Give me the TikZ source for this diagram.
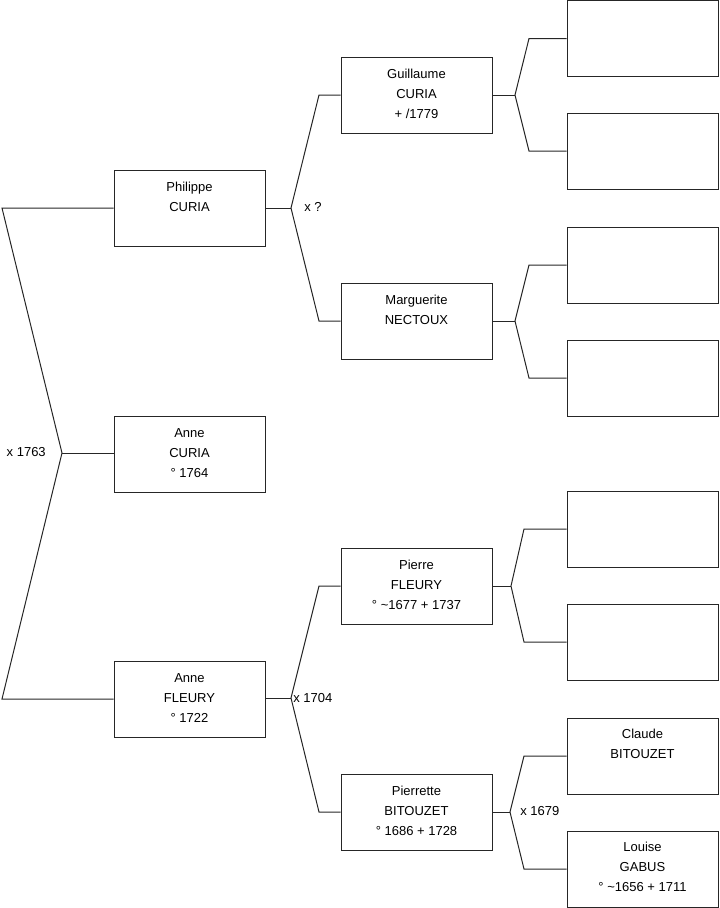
\documentclass[tikz,border=0pt]{standalone}
\usepackage{fontspec}
\setmainfont{Liberation Sans}
\usetikzlibrary{calc}
\newcommand{\firstln}{\rule{0pt}{10pt}}
\begin{document}
\begin{tikzpicture}[x=0.75pt,y=-0.75pt,
  pbox/.style={draw=black!85, line width=0.75pt, minimum width=113.25pt, minimum height=57pt, inner sep=0pt},
  txt/.style={anchor=north, align=center, inner sep=0pt, font=\fontsize{9.75}{15}\selectfont},
  lbl/.style={inner sep=0pt, font=\fontsize{9.75}{12}\selectfont},
  link/.style={draw=black!85, line width=0.75pt}]
\useasboundingbox (0,0) rectangle (719,908);
% level 1
\node[pbox] (P1) at (189.5,208) {};
\node[pbox] (A)  at (189.5,454) {};
\node[pbox] (F)  at (189.5,699) {};
% level 2
\node[pbox] (G)  at (416.5,95) {};
\node[pbox] (M)  at (416.5,321) {};
\node[pbox] (PF) at (416.5,586) {};
\node[pbox] (PB) at (416.5,812) {};
% level 3
\node[pbox] (U1) at (642.5,38.5) {};
\node[pbox] (U2) at (642.5,151) {};
\node[pbox] (U3) at (642.5,265) {};
\node[pbox] (U4) at (642.5,378) {};
\node[pbox] (U5) at (642.5,529) {};
\node[pbox] (U6) at (642.5,642) {};
\node[pbox] (C)  at (642.5,756) {};
\node[pbox] (L)  at (642.5,869) {};
% texts
\node[txt] (tP1) at ([yshift=-6.25pt]P1.north) {\firstln Philippe\\CURIA};
\node[txt] (tA)  at ([yshift=-6.25pt]A.north) {\firstln Anne\\CURIA\\° 1764};
\node[txt] (tF)  at ([yshift=-6.25pt]F.north) {\firstln Anne\\FLEURY\\° 1722};
\node[txt] (tG)  at ([yshift=-6.25pt]G.north) {\firstln Guillaume\\CURIA\\+ /1779};
\node[txt] (tM)  at ([yshift=-6.25pt]M.north) {\firstln Marguerite\\NECTOUX};
\node[txt] (tPF) at ([yshift=-6.25pt]PF.north) {\firstln Pierre\\FLEURY\\° \textasciitilde1677 + 1737};
\node[txt] (tPB) at ([yshift=-6.25pt]PB.north) {\firstln Pierrette\\BITOUZET\\° 1686 + 1728};
\node[txt] (tC)  at ([yshift=-5.75pt]C.north) {\firstln Claude\\BITOUZET};
\node[txt] (tL)  at ([yshift=-5.75pt]L.north) {\firstln Louise\\GABUS\\° \textasciitilde1656 + 1711};
% couple 0
\coordinate (j0) at (62,453);
\coordinate (j0a) at (2,208);
\coordinate (j0b) at (2,699);
\draw[link] (P1.west) -- (j0a) -- (j0) -- (j0b) -- (F.west);
\draw[link] (j0) -- (A.west |- j0);
\node[lbl, anchor=east] (l0) at (46,452) {x 1763};
% couple 1
\coordinate (j1) at (291,208);
\coordinate (j1a) at (319,95);
\coordinate (j1b) at (319,321);
\draw[link] (P1.east) -- (j1);
\draw[link] (G.west) -- (j1a) -- (j1) -- (j1b) -- (M.west);
\node[lbl, anchor=west] (l1) at (304,207) {x ?};
% couple 2
\coordinate (j2) at (291,698);
\coordinate (j2a) at (319,586);
\coordinate (j2b) at (319,812);
\draw[link] (F.east |- j2) -- (j2);
\draw[link] (PF.west) -- (j2a) -- (j2) -- (j2b) -- (PB.west);
\node[lbl, anchor=west] (l2) at (293,698) {x 1704};
% couple G
\coordinate (j3) at (515,95);
\coordinate (j3a) at (529,38.5);
\coordinate (j3b) at (529,151);
\draw[link] (G.east) -- (j3);
\draw[link] (U1.west) -- (j3a) -- (j3) -- (j3b) -- (U2.west);
% couple M
\coordinate (j4) at (515,321);
\coordinate (j4a) at (529,265);
\coordinate (j4b) at (529,378);
\draw[link] (M.east) -- (j4);
\draw[link] (U3.west) -- (j4a) -- (j4) -- (j4b) -- (U4.west);
% couple PF
\coordinate (j5) at (511,586);
\coordinate (j5a) at (524,529);
\coordinate (j5b) at (524,642);
\draw[link] (PF.east) -- (j5);
\draw[link] (U5.west) -- (j5a) -- (j5) -- (j5b) -- (U6.west);
% couple PB
\coordinate (j6) at (510,812);
\coordinate (j6a) at (524,756);
\coordinate (j6b) at (524,869);
\draw[link] (PB.east) -- (j6);
\draw[link] (C.west) -- (j6a) -- (j6) -- (j6b) -- (L.west);
\node[lbl, anchor=west] (l6) at (520,811) {x 1679};
\end{tikzpicture}
\end{document}
